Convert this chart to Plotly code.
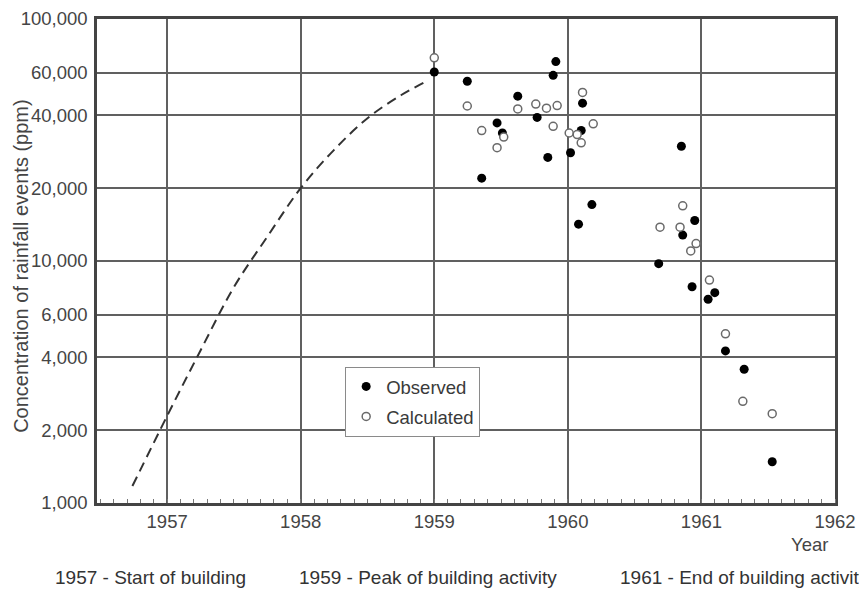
import plotly.graph_objects as go

# Dashed model curve (year, ppm)
curve_year = [1956.74, 1957.0, 1957.25, 1957.5, 1957.75, 1958.0, 1958.25, 1958.5, 1958.75, 1958.95]
curve_ppm = [1175, 2290, 4270, 7800, 12600, 20000, 28800, 38900, 48400, 55600]

# Observed (filled)
obs_year = [1959.0, 1959.247, 1959.625, 1959.77, 1959.91, 1959.89, 1960.11, 1959.47, 1959.51, 1960.10,
            1960.02, 1959.85, 1959.355, 1960.85, 1960.18, 1960.08, 1960.95, 1960.86, 1960.68, 1960.93,
            1961.10, 1961.05, 1961.18, 1961.32, 1961.53]
obs_ppm = [60400, 55300, 48000, 39200, 66700, 58500, 44900, 37200, 33800, 34600,
           28000, 26800, 22000, 29800, 17100, 14200, 14700, 12800, 9750, 7830,
           7400, 6950, 4250, 3570, 1480]

# Calculated (open)
calc_year = [1959.0, 1959.247, 1959.355, 1959.47, 1959.52, 1959.625, 1959.76, 1959.84, 1959.92, 1959.89,
             1960.01, 1960.07, 1960.10, 1960.11, 1960.19, 1960.86, 1960.69, 1960.84, 1960.96, 1960.92,
             1961.06, 1961.18, 1961.31, 1961.53]
calc_ppm = [69100, 43700, 34600, 29400, 32500, 42500, 44500, 42800, 43900, 36000,
            33800, 33300, 30800, 49700, 36900, 16900, 13800, 13800, 11800, 11000,
            8340, 5000, 2630, 2340]

y_tickvals = [1000, 2000, 4000, 6000, 10000, 20000, 40000, 60000, 100000]
y_ticktext = ["1,000", "2,000", "4,000", "6,000", "10,000", "20,000", "40,000", "60,000", "100,000"]
x_tickvals = [1957, 1958, 1959, 1960, 1961, 1962]
x_halfticks = [1956.5, 1957.5, 1958.5, 1959.5, 1960.5, 1961.5]

notes = ["1957 - Start of building", "1959 - Peak of building activity", "1961 - End of building activity"]

FONT = "Liberation Sans, Arial, sans-serif"
GRID = "#606060"
TXT = "#454545"
XR = [1956.475, 1962.0]
FS = 18.5

fig = go.Figure()
fig.add_trace(go.Scatter(x=curve_year, y=curve_ppm, mode="lines", line_shape="spline",
                         line=dict(color="#333333", width=2, dash="10px,6px"), showlegend=False))
fig.add_trace(go.Scatter(x=obs_year, y=obs_ppm, mode="markers", name="Observed", legendgroup="a",
                         marker=dict(color="black", size=9, line=dict(width=0))))
fig.add_trace(go.Scatter(x=calc_year, y=calc_ppm, mode="markers", name="Calculated", legendgroup="b",
                         marker=dict(color="white", size=8, symbol="circle",
                                     line=dict(color="#6a6a6a", width=1.5))))

fig.update_layout(
    width=859, height=582,
    margin=dict(l=89, r=32, t=11, b=87, autoexpand=False),
    paper_bgcolor="white", plot_bgcolor="white",
    font=dict(family=FONT, color=TXT, size=FS),
    xaxis=dict(range=XR, tickvals=x_tickvals, ticktext=[str(v) for v in x_tickvals],
               showgrid=True, gridcolor=GRID, gridwidth=1.5,
               showline=True, linecolor="#444444", linewidth=2.5, mirror=True,
               ticks="", zeroline=False, automargin=False, ticklabeloverflow="allow",
               minor=dict(dtick=0.1, tick0=1957, ticks="inside", ticklen=4, tickcolor="#777777", showgrid=False),
               tickfont=dict(size=FS, color=TXT)),
    xaxis2=dict(range=XR, overlaying="x", anchor="y", side="bottom", tickvals=x_halfticks,
                showticklabels=False, ticks="inside", ticklen=9, tickcolor="#777777", tickwidth=1,
                showgrid=False, zeroline=False, showline=False, automargin=False),
    yaxis=dict(type="log", range=[3, 5], tickvals=y_tickvals, ticktext=y_ticktext,
               showgrid=True, gridcolor=GRID, gridwidth=1.5,
               showline=True, linecolor="#444444", linewidth=2.5, mirror=True,
               ticks="", zeroline=False, ticklabelstandoff=3, automargin=False,
               ticklabeloverflow="allow",
               tickfont=dict(size=FS, color=TXT)),
    legend=dict(x=0.336, y=0.2816, xanchor="left", yanchor="top",
                bgcolor="white", bordercolor="#8a8a8a", borderwidth=1.2,
                font=dict(size=FS, color="#3a3a3a"), traceorder="grouped", tracegroupgap=3,
                itemwidth=30),
)

fig.add_annotation(text="Concentration of rainfall events (ppm)", xref="paper", yref="paper",
                   x=-0.103, y=0.49, xanchor="center", yanchor="middle", textangle=-90,
                   showarrow=False, font=dict(size=20, color=TXT))
fig.add_annotation(text="Year", xref="paper", yref="paper", x=0.993, y=-0.0857,
                   xanchor="right", yanchor="middle", showarrow=False,
                   font=dict(size=FS, color=TXT))
for txt, xp in zip(notes, [-0.0596, 0.271, 0.706]):
    fig.add_annotation(text=txt, xref="paper", yref="paper", x=xp, y=-0.153,
                       xanchor="left", yanchor="middle", showarrow=False,
                       font=dict(size=19, color="#333333"))

fig.write_html("out.html")
